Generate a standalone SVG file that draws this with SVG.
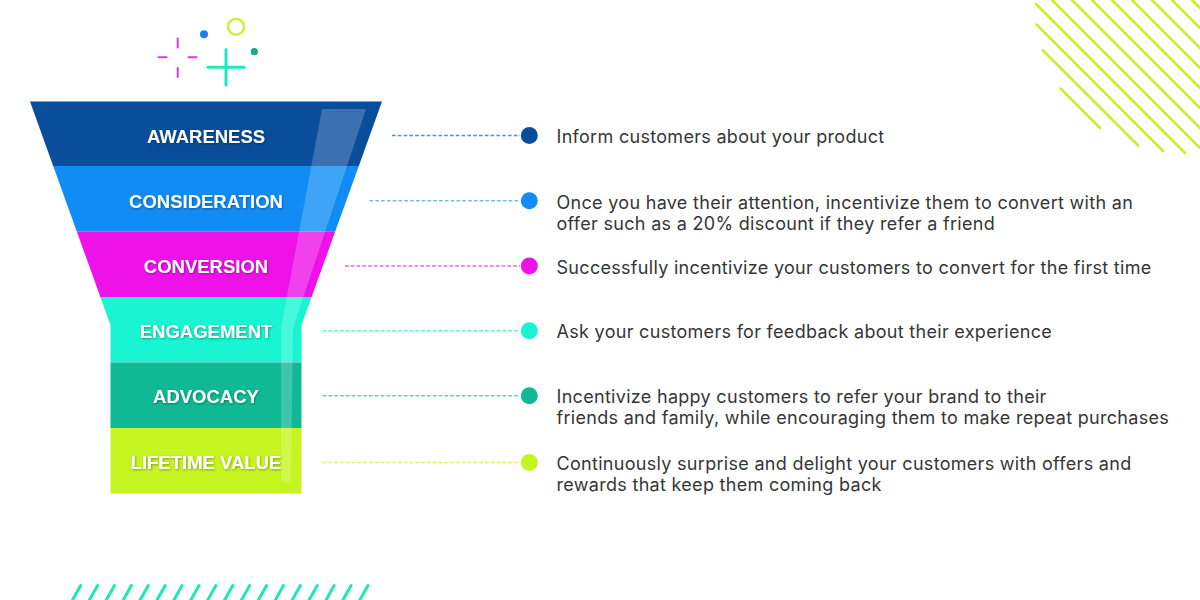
<svg xmlns="http://www.w3.org/2000/svg" width="1200" height="600" viewBox="0 0 1200 600">
<defs>
<style>
.lbl{font-family:"Liberation Sans",Arial,sans-serif;font-weight:bold;font-size:18.5px;fill:#fff;text-anchor:middle}
.desc{font-family:Inter,"Noto Sans",sans-serif;font-size:18px;letter-spacing:0.3px;fill:#363636}
.conn{fill:none;stroke-width:1.6;stroke-dasharray:3.6 2.2}
.tr{stroke:#c8f02a;stroke-width:2.6;stroke-linecap:round}
.sl{stroke:#1ee8b4;stroke-width:3;stroke-linecap:round}
</style>
<filter id="sh" x="-10%" y="-30%" width="120%" height="160%">
<feDropShadow dx="0.8" dy="1" stdDeviation="0.8" flood-color="#000" flood-opacity="0.35"/>
</filter>
</defs>
<rect width="1200" height="600" fill="#fff"/>

<g id="decor-top-left">
<g stroke="#d63de0" stroke-width="2" stroke-linecap="round">
<line x1="158.5" y1="57.3" x2="166.5" y2="57.3"/>
<line x1="188.5" y1="57.3" x2="196.5" y2="57.3"/>
<line x1="177.7" y1="38.5" x2="177.7" y2="47.5"/>
<line x1="177.7" y1="68" x2="177.7" y2="77"/>
</g>
<circle cx="204" cy="34.3" r="4" fill="#1a7ef0"/>
<circle cx="236" cy="26.7" r="8" fill="none" stroke="#d2ee3a" stroke-width="2.6"/>
<g stroke="#1de9c0" stroke-width="3" stroke-linecap="round">
<line x1="208" y1="67.3" x2="244" y2="67.3"/>
<line x1="226" y1="49.5" x2="226" y2="85"/>
</g>
<circle cx="254.3" cy="51.7" r="3.6" fill="#1aaa88"/>
</g>

<g id="decor-top-right">
<line class="tr" x1="1060.7" y1="88.7" x2="1100" y2="128"/>
<line class="tr" x1="1042.7" y1="50.1" x2="1138.3" y2="145.7"/>
<line class="tr" x1="1036.7" y1="24.7" x2="1163" y2="151"/>
<line class="tr" x1="1036" y1="4" x2="1185" y2="153"/>
<line class="tr" x1="1052" y1="0" x2="1200" y2="148"/>
<line class="tr" x1="1072" y1="0" x2="1200" y2="128"/>
<line class="tr" x1="1092" y1="0" x2="1200" y2="108"/>
<line class="tr" x1="1112" y1="0" x2="1200" y2="88"/>
<line class="tr" x1="1132" y1="0" x2="1200" y2="68"/>
<line class="tr" x1="1152" y1="0" x2="1200" y2="48"/>
<line class="tr" x1="1172" y1="0" x2="1200" y2="28"/>
<line class="tr" x1="1192" y1="0" x2="1200" y2="8"/>
</g>

<g id="decor-bottom">
<line class="sl" x1="72.5" y1="600" x2="80.7" y2="585.5"/>
<line class="sl" x1="89.4" y1="600" x2="97.6" y2="585.5"/>
<line class="sl" x1="106.3" y1="600" x2="114.5" y2="585.5"/>
<line class="sl" x1="123.2" y1="600" x2="131.4" y2="585.5"/>
<line class="sl" x1="140.1" y1="600" x2="148.3" y2="585.5"/>
<line class="sl" x1="157" y1="600" x2="165.2" y2="585.5"/>
<line class="sl" x1="173.9" y1="600" x2="182.1" y2="585.5"/>
<line class="sl" x1="190.8" y1="600" x2="199" y2="585.5"/>
<line class="sl" x1="207.7" y1="600" x2="215.9" y2="585.5"/>
<line class="sl" x1="224.6" y1="600" x2="232.8" y2="585.5"/>
<line class="sl" x1="241.5" y1="600" x2="249.7" y2="585.5"/>
<line class="sl" x1="258.4" y1="600" x2="266.6" y2="585.5"/>
<line class="sl" x1="275.3" y1="600" x2="283.5" y2="585.5"/>
<line class="sl" x1="292.2" y1="600" x2="300.4" y2="585.5"/>
<line class="sl" x1="309.1" y1="600" x2="317.3" y2="585.5"/>
<line class="sl" x1="326" y1="600" x2="334.2" y2="585.5"/>
<line class="sl" x1="342.9" y1="600" x2="351.1" y2="585.5"/>
<line class="sl" x1="359.8" y1="600" x2="368" y2="585.5"/>
</g>

<g id="connectors">
<line class="conn" stroke="#5b8dbf" x1="392" y1="135.5" x2="520" y2="135.5"/>
<line class="conn" stroke="#7ab8ee" x1="369.5" y1="200.8" x2="520" y2="200.8"/>
<line class="conn" stroke="#f060ec" x1="345" y1="266" x2="520" y2="266"/>
<line class="conn" stroke="#5ff0d6" x1="322.7" y1="330.7" x2="520" y2="330.7"/>
<line class="conn" stroke="#4fd6bc" x1="322.7" y1="395.7" x2="520" y2="395.7"/>
<line class="conn" stroke="#dcf26a" x1="322.7" y1="462.5" x2="520" y2="462.5"/>
</g>

<g id="awareness">
<polygon points="30,101.5 382,101.5 358.8,166 53.2,166" fill="#0a4e9b"/>
<text class="lbl" x="206" y="142.5" filter="url(#sh)">AWARENESS</text>
<circle cx="529.3" cy="135.5" r="8.5" fill="#0a4e9b"/>
<text class="desc" x="556.5" y="142.5">Inform customers about your product</text>
</g>

<g id="consideration">
<polygon points="53.2,166 358.8,166 335.2,231.5 76.8,231.5" fill="#108cf4"/>
<text class="lbl" x="206" y="208" filter="url(#sh)">CONSIDERATION</text>
<circle cx="529.3" cy="200.8" r="8.5" fill="#108cf4"/>
<text class="desc" x="556.5" y="208.5">Once you have their attention, incentivize them to convert with an</text>
<text class="desc" x="556.5" y="230">offer such as a 20% discount if they refer a friend</text>
</g>

<g id="conversion">
<polygon points="76.8,231.5 335.2,231.5 311.6,297 100.4,297" fill="#ee12e8"/>
<text class="lbl" x="206" y="273" filter="url(#sh)">CONVERSION</text>
<circle cx="529.3" cy="266" r="8.5" fill="#ee12e8"/>
<text class="desc" x="556.5" y="273.5">Successfully incentivize your customers to convert for the first time</text>
</g>

<g id="engagement">
<polygon points="100.4,297 311.6,297 301.5,325 301.5,362.5 110.5,362.5 110.5,325" fill="#19f5d2"/>
<text class="lbl" x="206" y="338" filter="url(#sh)">ENGAGEMENT</text>
<circle cx="529.3" cy="330.7" r="8.5" fill="#19f5d2"/>
<text class="desc" x="556.5" y="338">Ask your customers for feedback about their experience</text>
</g>

<g id="advocacy">
<rect x="110.5" y="362.5" width="191" height="65.5" fill="#10b894"/>
<text class="lbl" x="206" y="403" filter="url(#sh)">ADVOCACY</text>
<circle cx="529.3" cy="395.7" r="8.5" fill="#10b894"/>
<text class="desc" x="556.5" y="402.5">Incentivize happy customers to refer your brand to their</text>
<text class="desc" x="556.5" y="424">friends and family, while encouraging them to make repeat purchases</text>
</g>

<g id="lifetime-value">
<rect x="110.5" y="428" width="191" height="65.5" fill="#c5f520"/>
<text class="lbl" x="206" y="468.5" filter="url(#sh)">LIFETIME VALUE</text>
<circle cx="529.3" cy="462.5" r="8.5" fill="#c5f520"/>
<text class="desc" x="556.5" y="469.5">Continuously surprise and delight your customers with offers and</text>
<text class="desc" x="556.5" y="491">rewards that keep them coming back</text>
</g>

<path id="highlight" d="M322,109 L366,109 L293,328 L291,478 A5,5 0 0 1 281,478 L281,328 Z" fill="#fff" fill-opacity="0.2"/>
</svg>
